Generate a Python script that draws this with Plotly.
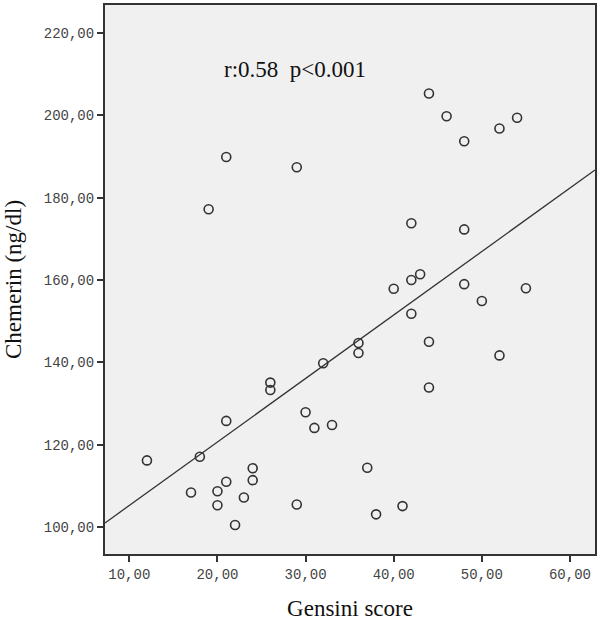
import numpy as np
import plotly.graph_objects as go

# Gensini score vs chemerin
gensini = [21, 29, 19, 44, 46, 48, 52, 54,
           42, 48, 43, 42, 40, 48, 55, 50, 42, 44, 52,
           26, 26, 32, 36, 36, 44, 30, 31, 33,
           21, 12, 18, 24, 24, 21, 17, 20, 23, 20, 22,
           29, 37, 38, 41]
chemerin = [189.9, 187.4, 177.2, 205.3, 199.8, 193.7, 196.8, 199.4,
            173.8, 172.3, 161.4, 160.0, 157.9, 159.0, 158.0, 154.9, 151.8, 145.0, 141.7,
            135.1, 133.3, 139.8, 144.7, 142.3, 133.9, 127.9, 124.1, 124.8,
            125.8, 116.2, 117.1, 114.3, 111.4, 111.0, 108.4, 108.7, 107.2, 105.3, 100.5,
            105.5, 114.4, 103.1, 105.1]

x_ticks = [10, 20, 30, 40, 50, 60]
y_ticks = [100, 120, 140, 160, 180, 200, 220]
annot = "r:0.58  p<0.001"

INK = "#333333"
PANEL = "#f0f0f0"
X_RANGE = [7.24, 62.84]
Y_RANGE = [93.47, 226.8]

slope, intercept = np.polyfit(gensini, chemerin, 1)
fit_x = np.array(X_RANGE)
fit_y = intercept + slope * fit_x

fig = go.Figure()
fig.add_trace(go.Scatter(x=fit_x, y=fit_y, mode="lines",
                         line=dict(color=INK, width=1.3), hoverinfo="skip"))
fig.add_trace(go.Scatter(x=gensini, y=chemerin, mode="markers",
                         marker=dict(symbol="circle-open", size=9, color=INK,
                                     line=dict(width=1.6, color=INK))))

fig.add_annotation(x=0.388, y=0.909, xref="paper", yref="paper", text=annot,
                   showarrow=False, font=dict(family="Liberation Serif", size=23, color="#111"))

axis_common = dict(showgrid=False, zeroline=False, showline=True, mirror=True,
                   linecolor=INK, linewidth=2, ticks="outside", ticklen=6,
                   tickwidth=1.5, tickcolor=INK, tickformat=".2f",
                   tickfont=dict(family="Liberation Mono", size=14, color="#444"))

fig.update_xaxes(range=X_RANGE, tickvals=x_ticks,
                 title=dict(text="Gensini score", standoff=18,
                            font=dict(family="Liberation Serif", size=23, color="#111")),
                 **axis_common)
fig.update_yaxes(range=Y_RANGE, tickvals=y_ticks,
                 title=dict(text="Chemerin (ng/dl)", standoff=16,
                            font=dict(family="Liberation Serif", size=23, color="#111")),
                 **axis_common)

fig.update_layout(width=600, height=621, showlegend=False,
                  paper_bgcolor="white", plot_bgcolor=PANEL,
                  separators=", ",
                  margin=dict(l=105, r=5, t=3, b=67))

# drop the default page margin so the figure sits at the window's corner
fig.write_html("out.html", config={"displayModeBar": False},
               post_script="document.body.style.margin='0';")
